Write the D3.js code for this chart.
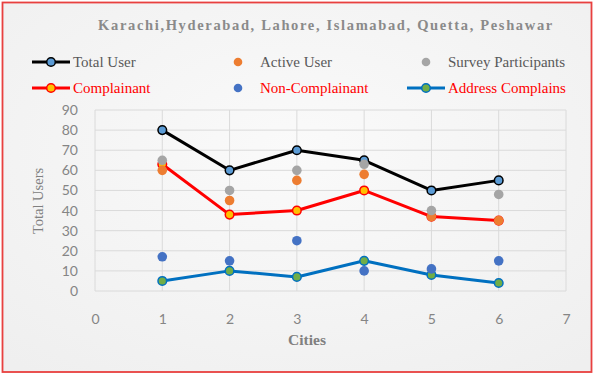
<!DOCTYPE html>
<html>
<head>
<meta charset="utf-8">
<script src="https://cdn.jsdelivr.net/npm/d3@7"></script>
<style>
  body { margin: 0; background: #fff; }
  svg { display: block; }
</style>
</head>
<body>
<div id="chart"></div>
<script>
const width = 597;
const height = 378;

// Chart values
const cities = [1, 2, 3, 4, 5, 6];
const totalUser = [80, 60, 70, 65, 50, 55];
const activeUser = [60, 45, 55, 58, 37, 35];
const surveyParticipants = [65, 50, 60, 63, 40, 48];
const complainant = [63, 38, 40, 50, 37, 35];
const nonComplainant = [17, 15, 25, 10, 11, 15];
const addressComplains = [5, 10, 7, 15, 8, 4];
const xTicks = [0, 1, 2, 3, 4, 5, 6, 7];
const yTicks = [0, 10, 20, 30, 40, 50, 60, 70, 80, 90];

const plot = { left: 95, right: 566, top: 110, bottom: 291 };

const x = d3.scaleLinear().domain([0, 7]).range([plot.left, plot.right]);
const y = d3.scaleLinear().domain([0, 90]).range([plot.bottom, plot.top]);

const svg = d3.select("#chart").append("svg")
  .attr("width", width)
  .attr("height", height);

// background with a faint gradient, red frame
const defs = svg.append("defs");
const grad = defs.append("radialGradient").attr("id", "bg").attr("cx", "50%").attr("cy", "40%").attr("r", "75%");
grad.append("stop").attr("offset", "0%").attr("stop-color", "#fafafa");
grad.append("stop").attr("offset", "100%").attr("stop-color", "#efefef");

svg.append("rect")
  .attr("x", 2.5).attr("y", 2.5)
  .attr("width", 589).attr("height", 369.5)
  .attr("fill", "url(#bg)")
  .attr("stroke", "#e8403f")
  .attr("stroke-width", 1.8);

// title
svg.append("text")
  .attr("x", 326)
  .attr("y", 30)
  .attr("text-anchor", "middle")
  .style("font-family", "'Liberation Serif', serif")
  .style("font-size", "14.5px")
  .style("font-weight", "bold")
  .style("letter-spacing", "1.65px")
  .style("fill", "#8a8a8a")
  .text("Karachi,Hyderabad, Lahore, Islamabad, Quetta, Peshawar");

// gridlines
const grid = svg.append("g");
grid.selectAll(".hgrid")
  .data(yTicks)
  .join("line")
    .attr("x1", plot.left).attr("x2", plot.right)
    .attr("y1", d => y(d)).attr("y2", d => y(d))
    .attr("stroke", "#dadada").attr("stroke-width", 1);
grid.selectAll(".vgrid")
  .data(xTicks)
  .join("line")
    .attr("x1", d => x(d)).attr("x2", d => x(d))
    .attr("y1", plot.top).attr("y2", plot.bottom)
    .attr("stroke", "#dadada").attr("stroke-width", 1);

// axes (labels only, Excel style)
const yAxis = svg.append("g")
  .attr("transform", `translate(${plot.left}, 0)`)
  .call(d3.axisLeft(y).tickValues(yTicks).tickFormat(d3.format("d")).tickSize(0).tickPadding(17));
const xAxis = svg.append("g")
  .attr("transform", `translate(0, ${plot.bottom})`)
  .call(d3.axisBottom(x).tickValues(xTicks).tickFormat(d3.format("d")).tickSize(0).tickPadding(23));
[yAxis, xAxis].forEach(a => {
  a.select(".domain").remove();
  a.selectAll("text")
    .style("font-family", "Lato, 'Open Sans', sans-serif")
    .style("font-size", "14px")
    .style("fill", "#858585");
});

// axis titles
svg.append("text")
  .attr("transform", `translate(43, 201) rotate(-90)`)
  .attr("text-anchor", "middle")
  .style("font-family", "'Liberation Serif', serif")
  .style("font-size", "14.5px")
  .style("fill", "#808080")
  .text("Total Users");

svg.append("text")
  .attr("x", 307)
  .attr("y", 345)
  .attr("text-anchor", "middle")
  .style("font-family", "'Liberation Serif', serif")
  .style("font-size", "15.5px")
  .style("font-weight", "bold")
  .style("fill", "#808080")
  .text("Cities");

const line = d3.line().x((d, i) => x(cities[i])).y(d => y(d));

// series definitions
const lineSeries = [
  { name: "Total User", values: totalUser, stroke: "#000000", fill: "#5b9bd5" },
  { name: "Complainant", values: complainant, stroke: "#ff0000", fill: "#ffc000" },
  { name: "Address Complains", values: addressComplains, stroke: "#0070c0", fill: "#70ad47" }
];
const dotSeries = [
  { name: "Active User", values: activeUser, fill: "#ed7d31" },
  { name: "Survey Participants", values: surveyParticipants, fill: "#a5a5a5" },
  { name: "Non-Complainant", values: nonComplainant, fill: "#4472c4" }
];

const plotG = svg.append("g");

lineSeries.forEach(s => {
  plotG.append("path")
    .datum(s.values)
    .attr("d", line)
    .attr("fill", "none")
    .attr("stroke", s.stroke)
    .attr("stroke-width", 3)
    .attr("stroke-linejoin", "round");
  plotG.selectAll(null)
    .data(s.values)
    .join("circle")
      .attr("cx", (d, i) => x(cities[i]))
      .attr("cy", d => y(d))
      .attr("r", 4.3)
      .attr("fill", s.fill)
      .attr("stroke", s.stroke)
      .attr("stroke-width", 1.5);
});

dotSeries.forEach(s => {
  plotG.selectAll(null)
    .data(s.values)
    .join("circle")
      .attr("cx", (d, i) => x(cities[i]))
      .attr("cy", d => y(d))
      .attr("r", 4.8)
      .attr("fill", s.fill);
});

// legend
const legendItems = [
  { name: "Total User", type: "line", stroke: "#000000", fill: "#5b9bd5", x: 32, y: 62, color: "#595959" },
  { name: "Active User", type: "dot", fill: "#ed7d31", x: 238, y: 62, color: "#595959" },
  { name: "Survey Participants", type: "dot", fill: "#a5a5a5", x: 426, y: 62, color: "#595959" },
  { name: "Complainant", type: "line", stroke: "#ff0000", fill: "#ffc000", x: 32, y: 88, color: "#ff0000" },
  { name: "Non-Complainant", type: "dot", fill: "#4472c4", x: 238, y: 88, color: "#ff0000" },
  { name: "Address Complains", type: "line", stroke: "#0070c0", fill: "#70ad47", x: 407, y: 88, color: "#ff0000" }
];

const legend = svg.append("g");
legendItems.forEach(it => {
  const g = legend.append("g").attr("transform", `translate(${it.x}, ${it.y})`);
  let textX;
  if (it.type === "line") {
    g.append("line").attr("x1", 0).attr("x2", 38).attr("y1", 0).attr("y2", 0)
      .attr("stroke", it.stroke).attr("stroke-width", 3);
    g.append("circle").attr("cx", 19).attr("cy", 0).attr("r", 4.3)
      .attr("fill", it.fill).attr("stroke", it.stroke).attr("stroke-width", 1.5);
    textX = 41;
  } else {
    g.append("circle").attr("cx", 0).attr("cy", 0).attr("r", 4.3).attr("fill", it.fill);
    textX = 22;
  }
  g.append("text")
    .attr("x", textX)
    .attr("y", 5)
    .style("font-family", "'Liberation Serif', serif")
    .style("font-size", "15px")
    .style("fill", it.color)
    .text(it.name);
});
</script>
</body>
</html>
